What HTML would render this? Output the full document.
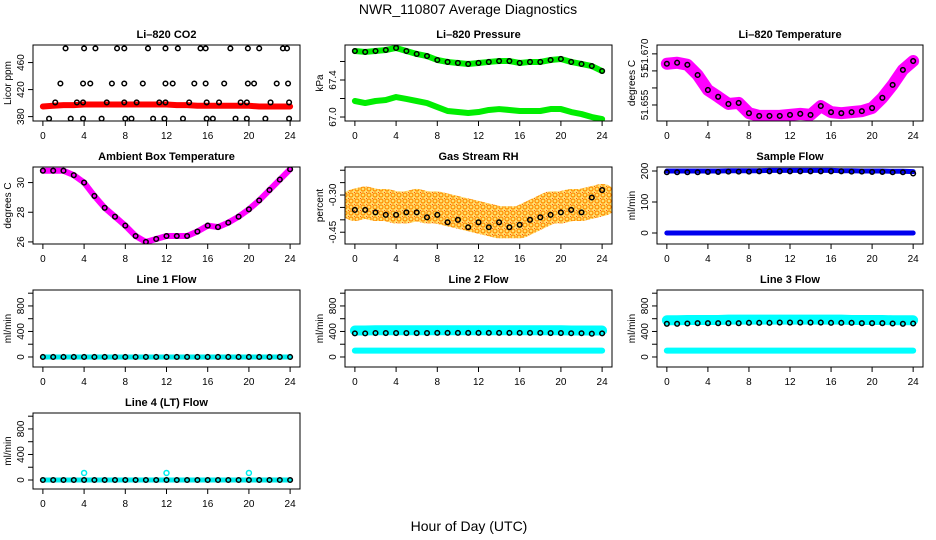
<!DOCTYPE html>
<html><head><meta charset="utf-8"><style>
html,body{margin:0;padding:0;background:#fff;}
svg{display:block;font-family:"Liberation Sans",sans-serif;}
</style></head><body>
<svg id="chart" width="936" height="540" viewBox="0 0 936 540" xmlns="http://www.w3.org/2000/svg">
<defs>
<pattern id="rhpat" width="6" height="6" patternUnits="userSpaceOnUse">
<rect width="6" height="6" fill="#ffe070"/>
<circle cx="3" cy="3" r="2" fill="none" stroke="#ff8c00" stroke-width="1.2"/>
<circle cx="0" cy="0" r="1" fill="#ff2000"/>
</pattern>
</defs>
<rect width="936" height="540" fill="#fff"/>
<text x="468" y="14" text-anchor="middle" font-size="14">NWR_110807  Average Diagnostics</text>
<text x="469" y="531" text-anchor="middle" font-size="14">Hour of Day (UTC)</text>
</svg>
<script>
// ---------- data ----------
const hours = [0,1,2,3,4,5,6,7,8,9,10,11,12,13,14,15,16,17,18,19,20,21,22,23,24];
const xTicks = [0,4,8,12,16,20,24];
// CO2
const co2Band = [395,396,397,397,398,398,398,398,398,398,398,398,398,397,397,396,396,396,396,396,396,395,395,395,395];
const co2Hours480 = [2.2,4.0,5.1,7.2,7.9,10.2,11.9,13.1,15.3,15.8,18.2,19.9,21.0,23.3,23.7];
const co2Hours429 = [1.7,3.9,4.6,6.7,7.9,9.7,11.9,12.6,14.7,15.8,17.6,19.9,20.5,22.7,23.8];
const co2Hours401 = [1.2,3.3,3.9,6.2,7.9,9.1,11.3,11.9,14.2,15.9,17.1,19.2,19.8,22.1,23.9];
const co2Hours377 = [0.6,2.7,3.9,5.7,8.0,8.6,10.7,11.8,13.6,15.9,16.5,18.7,19.8,21.6,23.9];
const co2Ticks = [380,420,460];
// Pressure
const presUpper = [67.713,67.703,67.713,67.724,67.746,67.713,67.681,67.659,67.616,67.595,67.584,67.573,67.584,67.595,67.605,67.605,67.584,67.595,67.595,67.616,67.627,67.595,67.573,67.551,67.497];
const presLower = [67.173,67.151,67.173,67.184,67.216,67.195,67.173,67.151,67.108,67.065,67.054,67.043,67.054,67.076,67.086,67.076,67.065,67.065,67.065,67.086,67.086,67.054,67.032,67.0,66.978];
const presTicks = [67.0,67.2,67.4,67.6];
const presLabels = ["67.0","","67.4",""];
// Li-820 temperature
const licTemp = [51.6671,51.6674,51.6668,51.6638,51.6594,51.6574,51.6553,51.6556,51.6526,51.6518,51.6518,51.6518,51.6521,51.6524,51.6521,51.6547,51.6529,51.6526,51.6529,51.6532,51.6541,51.6571,51.6609,51.6653,51.6679];
const licTicks = [51.655,51.660,51.665,51.670];
const licLabels = ["51.655","","51.","51.670"];
// Ambient box temperature
const ambTemp = [30.8,30.8,30.8,30.5,30.0,29.1,28.3,27.7,27.1,26.4,26.0,26.2,26.4,26.4,26.4,26.7,27.1,27.0,27.3,27.7,28.2,28.8,29.5,30.2,30.9];
const ambTicks = [26,28,30];
// Gas stream RH
const rhBand = [-0.34,-0.33,-0.34,-0.34,-0.35,-0.35,-0.34,-0.35,-0.35,-0.36,-0.37,-0.38,-0.39,-0.40,-0.41,-0.41,-0.41,-0.39,-0.37,-0.35,-0.35,-0.34,-0.34,-0.33,-0.32];
const rhBlack = [-0.36,-0.36,-0.37,-0.38,-0.38,-0.37,-0.37,-0.39,-0.38,-0.41,-0.40,-0.43,-0.41,-0.43,-0.41,-0.43,-0.42,-0.40,-0.39,-0.38,-0.37,-0.36,-0.37,-0.31,-0.28];
const rhTicks = [-0.45,-0.40,-0.35,-0.30,-0.25,-0.20];
const rhLabels = ["-0.45","","","-0.30","",""];
// Sample flow
const sfHigh = [200,200,200,200,200,200,201,201,201,201,202,202,202,202,202,202,202,201,201,200,200,200,199,199,198];
const sfLow = [0,0,0,0,0,0,0,0,0,0,0,0,0,0,0,0,0,0,0,0,0,0,0,0,0];
const sfBlack = [196,196,196,196,197,197,198,198,198,199,199,199,199,199,199,199,199,199,198,198,197,197,196,196,192];
const sfTicks = [0,100,200];
// Line flows
const flowTicks = [0,200,400,600,800,1000];
const flowLabels = ["0","","400","","800",""];
const l1Cyan = [0,0,0,0,0,0,0,0,0,0,0,0,0,0,0,0,0,0,0,0,0,0,0,0,0];
const l1Black = [0,0,0,0,0,0,0,0,0,0,0,0,0,0,0,0,0,0,0,0,0,0,0,0,0];
const l2CyanHigh = [415,415,420,420,420,420,420,420,420,420,420,420,420,420,420,420,420,420,420,420,420,415,415,415,415];
const l2CyanLow = [100,100,100,100,100,100,100,100,100,100,100,100,100,100,100,100,100,100,100,100,100,100,100,100,100];
const l2Black = [370,370,375,375,375,375,375,375,378,378,378,378,378,378,378,378,378,378,378,375,375,372,372,365,370];
const l3CyanHigh = [575,575,580,580,580,580,585,585,585,585,585,585,585,585,585,585,585,585,580,580,580,580,575,575,575];
const l3CyanLow = [100,100,100,100,100,100,100,100,100,100,100,100,100,100,100,100,100,100,100,100,100,100,100,100,100];
const l3Black = [520,520,525,530,530,530,530,530,535,535,535,540,540,540,540,540,535,535,535,530,530,530,525,520,525];
const l4Cyan = [0,0,0,0,0,0,0,0,0,0,0,0,0,0,0,0,0,0,0,0,0,0,0,0,0];
const l4SpikeHours = [4,12,20];
const l4SpikeValues = [110,110,110];
const l4Black = [0,0,0,0,0,0,0,0,0,0,0,0,0,0,0,0,0,0,0,0,0,0,0,0,0];

// ---------- drawing ----------
const NS="http://www.w3.org/2000/svg";
const svg=document.getElementById('chart');
function mk(tag,attrs,parent){const e=document.createElementNS(NS,tag);for(const k in attrs)e.setAttribute(k,attrs[k]);(parent||svg).appendChild(e);return e;}
const colX=[[33,300],[345,612],[657,923]];
const rowY=[[45,121],[167,244],[290,367],[413,489]];
function panel(col,row,title,ylab,ymin,ymax,ticks,labels,name){
  const [x0,x1]=colX[col],[y0,y1]=rowY[row];
  const g=mk('g',{});
  
  
  const span=24*1.08, xs=h=>x0+(h+0.96)/span*(x1-x0);
  const ys=v=>y1-(v-ymin)/(ymax-ymin)*(y1-y0);
  const t=mk('text',{x:(x0+x1)/2,y:y0-7,'text-anchor':'middle','font-size':11,'font-weight':'bold'},g);
  t.textContent=title;
  
  
  const clip='c'+col+row;
  const cp=mk('clipPath',{id:clip},g);mk('rect',{x:x0,y:y0,width:x1-x0,height:y1-y0},cp);
  const plot=mk('g',{'clip-path':`url(#${clip})`},g);
  const box=mk('rect',{x:x0,y:y0,width:x1-x0,height:y1-y0,fill:'none',stroke:'#000','stroke-width':1},g);
  
  
  const xa=mk('g',{},g);
  
  
  xTicks.forEach(h=>{mk('line',{x1:xs(h),x2:xs(h),y1:y1,y2:y1+5,stroke:'#000'},xa);
    const l=mk('text',{x:xs(h),y:y1+18,'text-anchor':'middle','font-size':10},xa);l.textContent=h;});
  const ya=mk('g',{},g);
  
  
  ticks.forEach((v,i)=>{mk('line',{x1:x0,x2:x0-5,y1:ys(v),y2:ys(v),stroke:'#000'},ya);
    if(labels[i]!==''){const l=mk('text',{x:0,y:0,'text-anchor':'middle','font-size':10,transform:`translate(${x0-9},${ys(v)}) rotate(-90)`},ya);l.textContent=labels[i];}});
  const yl=mk('text',{x:0,y:0,'text-anchor':'middle','font-size':10,transform:`translate(${x0-22},${(y0+y1)/2}) rotate(-90)`},g);
  yl.textContent=ylab;
  
  
  return {xs,ys,plot};
}
function band(p,xsArr,vals,color,w,name){
  const pl=mk('polyline',{points:vals.map((v,i)=>p.xs(xsArr[i])+','+p.ys(v)).join(' '),fill:'none',stroke:color,'stroke-width':w,'stroke-linejoin':'round','stroke-linecap':'round'},p.plot);
  
  
}
function pts(p,xsArr,vals,color,r,name){
  const g=mk('g',{},p.plot);
  
  
  vals.forEach((v,i)=>mk('circle',{cx:p.xs(xsArr[i]),cy:p.ys(v),r:r,fill:'none',stroke:color,'stroke-width':1.5},g));
}
const fill=(arr,v)=>arr.map(()=>v);

let p=panel(0,0,'Li\u2013820 CO2','Licor ppm',373.5,486,co2Ticks,co2Ticks.map(String),'co2-panel');
band(p,hours,co2Band,'#ff0000',6,'co2-band');
pts(p,co2Hours480,fill(co2Hours480,481),'#000',2.3,'co2-points-480');
pts(p,co2Hours429,fill(co2Hours429,429),'#000',2.3,'co2-points-429');
pts(p,co2Hours401,fill(co2Hours401,401),'#000',2.3,'co2-points-401');
pts(p,co2Hours377,fill(co2Hours377,377),'#000',2.3,'co2-points-377');

p=panel(1,0,'Li\u2013820 Pressure','kPa',66.957,67.778,presTicks,presLabels,'pressure-panel');
band(p,hours,presUpper,'#00ee00',6,'pressure-upper-band');
band(p,hours,presLower,'#00ee00',6,'pressure-lower-band');
pts(p,hours,presUpper,'#000',2.3,'pressure-points');

p=panel(2,0,'Li\u2013820 Temperature','degrees C',51.6503,51.6726,licTicks,licLabels,'licor-temp-panel');
band(p,hours,licTemp,'#ff00ff',12,'licor-temp-band');
pts(p,hours,licTemp,'#000',2.3,'licor-temp-points');

p=panel(0,1,'Ambient Box Temperature','degrees C',25.86,31.05,ambTicks,ambTicks.map(String),'ambient-temp-panel');
band(p,hours,ambTemp,'#ff00ff',6,'ambient-temp-band');
pts(p,hours,ambTemp,'#000',2.3,'ambient-temp-points');

p=panel(1,1,'Gas Stream RH','percent',-0.4975,-0.187,rhTicks,rhLabels,'rh-panel');
band(p,hours,rhBand,'url(#rhpat)',32,'rh-band');
pts(p,hours,rhBlack,'#000',2.3,'rh-points');

p=panel(2,1,'Sample Flow','ml/min',-35.5,212.9,sfTicks,sfTicks.map(String),'sample-flow-panel');
band(p,hours,sfHigh,'#0000ee',5,'sample-flow-high-band');
band(p,hours,sfLow,'#0000ee',5,'sample-flow-low-band');
pts(p,hours,sfBlack,'#000',2.3,'sample-flow-points');

p=panel(0,2,'Line 1 Flow','ml/min',-157,1050,flowTicks,flowLabels,'line1-flow-panel');
band(p,hours,l1Cyan,'#00eeee',5,'line1-cyan-band');
pts(p,hours,l1Black,'#000',2.3,'line1-points');

p=panel(1,2,'Line 2 Flow','ml/min',-157,1050,flowTicks,flowLabels,'line2-flow-panel');
band(p,hours,l2CyanHigh,'#00ffff',10,'line2-cyan-high-band');
band(p,hours,l2CyanLow,'#00ffff',6,'line2-cyan-low-band');
pts(p,hours,l2Black,'#000',2.3,'line2-points');

p=panel(2,2,'Line 3 Flow','ml/min',-157,1050,flowTicks,flowLabels,'line3-flow-panel');
band(p,hours,l3CyanHigh,'#00ffff',10,'line3-cyan-high-band');
band(p,hours,l3CyanLow,'#00ffff',6,'line3-cyan-low-band');
pts(p,hours,l3Black,'#000',2.3,'line3-points');

p=panel(0,3,'Line 4 (LT) Flow','ml/min',-141,1050,flowTicks,flowLabels,'line4-flow-panel');
band(p,hours,l4Cyan,'#00eeee',5,'line4-cyan-band');
pts(p,l4SpikeHours,l4SpikeValues,'#00eeee',2.5,'line4-spikes');
pts(p,hours,l4Black,'#000',2.3,'line4-points');
</script>
</body></html>
